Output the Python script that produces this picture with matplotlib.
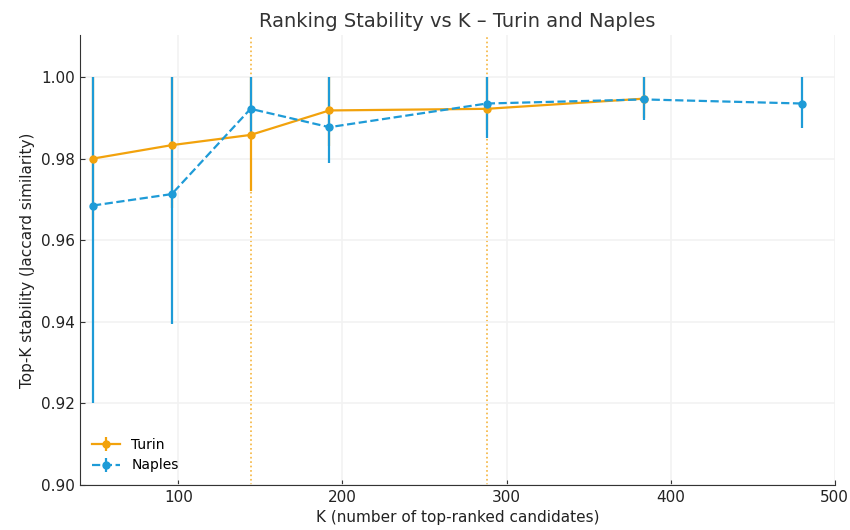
import numpy as np
import matplotlib.pyplot as plt

# K values and stability values
k_turin = [48, 96, 144, 192, 288, 384]
turin_mean = [0.9800, 0.9833, 0.9858, 0.9918, 0.9922, 0.9947]
turin_low = [0.965, 0.968, 0.972, 0.983, 0.987, 0.990]
turin_high = [1.000, 1.000, 1.000, 1.000, 1.000, 1.000]

k_naples = [48, 96, 144, 192, 288, 384, 480]
naples_mean = [0.9685, 0.9713, 0.9922, 0.9877, 0.9935, 0.9945, 0.9935]
naples_low = [0.9200, 0.9395, 0.9860, 0.9790, 0.9850, 0.9895, 0.9875]
naples_high = [1.000, 1.000, 1.000, 1.000, 1.000, 1.000, 1.000]

k_marks = [144, 288]

orange = '#F2A20C'
blue = '#1E9BD7'

fig = plt.figure(figsize=(8.5, 5.3), dpi=100)
ax = fig.add_axes([0.094, 0.085, 0.888, 0.849])

t_err = [np.array(turin_mean) - np.array(turin_low),
         np.array(turin_high) - np.array(turin_mean)]
n_err = [np.array(naples_mean) - np.array(naples_low),
         np.array(naples_high) - np.array(naples_mean)]

ax.errorbar(k_turin, turin_mean, yerr=t_err, color=orange, marker='o',
            ms=5, lw=1.6, elinewidth=1.6, capsize=0, label='Turin')
ax.errorbar(k_naples, naples_mean, yerr=n_err, color=blue, marker='o',
            ms=5, lw=1.6, ls='--', elinewidth=1.6, capsize=0, label='Naples')

for k in k_marks:
    ax.axvline(k, color=orange, ls=':', lw=1.2, alpha=0.8, zorder=0)

ax.set_xlim(40, 500)
ax.set_ylim(0.90, 1.0103)
ax.set_xticks([100, 200, 300, 400, 500])
ax.set_yticks([0.90, 0.92, 0.94, 0.96, 0.98, 1.00])
ax.yaxis.set_major_formatter(plt.FormatStrFormatter('%.2f'))
ax.grid(True, color='#f2f2f2', lw=1.2)
ax.set_axisbelow(True)
for s in ['top', 'right']:
    ax.spines[s].set_visible(False)
for s in ['left', 'bottom']:
    ax.spines[s].set_color('#333333')
ax.tick_params(direction='in', labelsize=11, colors='#333333')
ax.tick_params(axis='both', labelcolor='#222222')

ax.set_title('Ranking Stability vs K – Turin and Naples', fontsize=14,
             color='#333333')
ax.set_xlabel('K (number of top-ranked candidates)', fontsize=11,
              color='#222222')
ax.set_ylabel('Top-K stability (Jaccard similarity)', fontsize=11,
              color='#222222')
ax.legend(loc='lower left', frameon=False, fontsize=10)

fig.savefig('out.png', dpi=100)
